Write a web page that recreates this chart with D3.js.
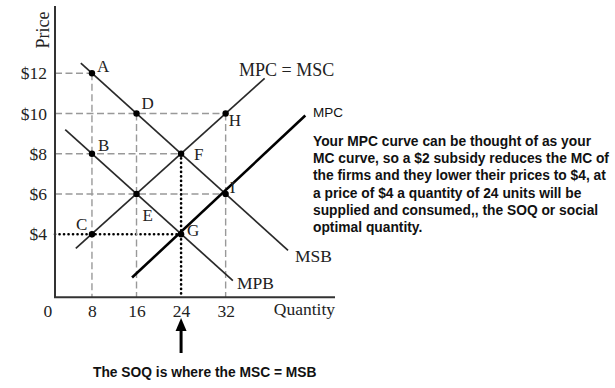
<!DOCTYPE html>
<html><head><meta charset="utf-8">
<script src="https://cdn.jsdelivr.net/npm/d3@7"></script>
<style>
html,body{margin:0;padding:0;background:#fff;}
svg{display:block;}
</style>
</head><body>
<svg id="chart" width="615" height="388"></svg>
<script>
// ---- data ----
const qTicks = [0, 8, 16, 24, 32];
const pTicks = [4, 6, 8, 10, 12];
const pTickLabels = ["$4", "$6", "$8", "$10", "$12"];

const pointNames = ["A", "D", "H", "B", "F", "E", "I", "C", "G"];
const pointQ     = [8, 16, 32, 8, 24, 16, 32, 8, 24];
const pointP     = [12, 10, 10, 8, 8, 6, 6, 4, 4];

const curveNames = ["MPC = MSC", "MSB", "MPB", "MPC"];
const curveQ0 = [5.1, 6.0, 3.2, 15.2];
const curveP0 = [3.3, 12.5, 9.2, 1.85];
const curveQ1 = [39.0, 43.2, 33.3, 46.3];
const curveP1 = [11.75, 3.2, 1.7, 9.9];

// guide lines: horizontal (price level, to quantity), vertical (quantity, from price)
const hGuideP = [12, 10, 8, 6, 4];
const hGuideQ = [8, 32, 24, 32, 24];
const hGuideDotted = [false, false, false, false, true];
const vGuideQ = [8, 16, 32, 24];
const vGuideP = [12, 10, 10, 8];
const vGuideDotted = [false, false, false, true];

const noteLines = [
  "Your MPC curve can be thought of as your",
  "MC curve, so a $2 subsidy reduces the MC of",
  "the firms and they lower their prices to $4, at",
  "a price of $4 a quantity of 24 units will be",
  "supplied and consumed,, the SOQ or social",
  "optimal quantity."
];
const bottomNote = "The SOQ is where the MSC = MSB";

// ---- layout ----
const svg = d3.select("#chart");
const x = d3.scaleLinear().domain([0, 40]).range([47.4, 270.2]);
const y = d3.scaleLinear().domain([0, 12]).range([314.8, 73.3]);
const axisX = 55, axisY = 297.3, axisTop = 6, axisRight = 335;
const serif = "'Liberation Serif','Times New Roman',serif";
const sans = "'Liberation Sans',Arial,Helvetica,sans-serif";
const ink = "#222";

// guides
const gGuides = svg.append("g");
hGuideP.forEach((p, i) => {
  gGuides.append("line")
    .attr("x1", axisX).attr("x2", x(hGuideQ[i]))
    .attr("y1", y(p)).attr("y2", y(p))
    .attr("stroke", hGuideDotted[i] ? "#000" : "#999")
    .attr("stroke-width", hGuideDotted[i] ? 2.6 : 1.4)
    .attr("stroke-linecap", hGuideDotted[i] ? "round" : "butt")
    .attr("stroke-dasharray", hGuideDotted[i] ? "0.1 4.4" : "7 3.5");
});
vGuideQ.forEach((q, i) => {
  gGuides.append("line")
    .attr("x1", x(q)).attr("x2", x(q))
    .attr("y1", y(vGuideP[i])).attr("y2", axisY)
    .attr("stroke", vGuideDotted[i] ? "#000" : "#999")
    .attr("stroke-width", vGuideDotted[i] ? 2.6 : 1.4)
    .attr("stroke-linecap", vGuideDotted[i] ? "round" : "butt")
    .attr("stroke-dasharray", vGuideDotted[i] ? "0.1 4.4" : "7 3.5");
});

// curves
const line = d3.line().x(d => x(d[0])).y(d => y(d[1]));
curveNames.forEach((n, i) => {
  svg.append("path")
    .datum([[curveQ0[i], curveP0[i]], [curveQ1[i], curveP1[i]]])
    .attr("d", line)
    .attr("fill", "none")
    .attr("stroke", n === "MPC" ? "#000" : "#2a2a2a")
    .attr("stroke-width", n === "MPC" ? 2.6 : 1.7);
});

// axes
svg.append("line").attr("x1", axisX).attr("x2", axisX).attr("y1", axisTop).attr("y2", axisY)
  .attr("stroke", "#333").attr("stroke-width", 2);
svg.append("line").attr("x1", axisX - 1).attr("x2", axisRight).attr("y1", axisY).attr("y2", axisY)
  .attr("stroke", "#333").attr("stroke-width", 2);

const xAxis = svg.append("g").attr("transform", `translate(0,${axisY})`)
  .call(d3.axisBottom(x).tickValues(qTicks).tickSize(0).tickPadding(7).tickFormat(d3.format("d")));
xAxis.select(".domain").remove();
xAxis.selectAll("text").attr("font-family", serif).attr("font-size", 17.5).attr("fill", ink)
  .attr("dy", "0.71em");

const yAxis = svg.append("g").attr("transform", `translate(${axisX},0)`)
  .call(d3.axisLeft(y).tickValues(pTicks).tickSize(0).tickPadding(8)
    .tickFormat((d, i) => pTickLabels[i]));
yAxis.select(".domain").remove();
yAxis.selectAll("text").attr("font-family", serif).attr("font-size", 17.5).attr("fill", ink);

svg.append("text").attr("x", axisRight).attr("y", 315)
  .attr("text-anchor", "end").attr("font-family", serif).attr("font-size", 17.5).attr("fill", ink)
  .text("Quantity");
svg.append("text").attr("transform", "translate(49,30) rotate(-90)")
  .attr("text-anchor", "middle").attr("font-family", serif).attr("font-size", 18).attr("fill", ink)
  .text("Price");

// points
const labelOffset = {A:[5,-1], D:[5,-5], H:[3,12], B:[6,-3], F:[13,6], E:[6,27], I:[4,-1], C:[-16,-4], G:[6,2]};
pointNames.forEach((n, i) => {
  svg.append("circle").attr("cx", x(pointQ[i])).attr("cy", y(pointP[i])).attr("r", 3.2).attr("fill", "#000");
  svg.append("text").attr("x", x(pointQ[i]) + labelOffset[n][0]).attr("y", y(pointP[i]) + labelOffset[n][1])
    .attr("font-family", serif).attr("font-size", 17).attr("fill", ink).text(n);
});

// curve labels
const curveLabelPos = {"MPC = MSC":[239,76,serif,18,"normal"], "MSB":[295,262,serif,17.5,"normal"], "MPB":[237,289,serif,17.5,"normal"], "MPC":[313,117,sans,13.5,"normal"]};
curveNames.forEach(n => {
  const c = curveLabelPos[n];
  svg.append("text").attr("x", c[0]).attr("y", c[1]).attr("font-family", c[2]).attr("font-size", c[3])
    .attr("fill", n === "MPC" ? "#111" : ink).text(n);
});

// note
const note = svg.append("text").attr("font-family", sans).attr("font-size", 13.8)
  .attr("font-weight", "bold").attr("fill", "#111");
noteLines.forEach((t, i) => {
  note.append("tspan").attr("x", 313).attr("y", 146 + i * 17.2).text(t);
});

// arrow to 24
const ax = x(24);
svg.append("line").attr("x1", ax).attr("x2", ax).attr("y1", 328).attr("y2", 353)
  .attr("stroke", "#000").attr("stroke-width", 3);
svg.append("path").attr("d", `M${ax},318 L${ax - 5.5},331 L${ax + 5.5},331 Z`).attr("fill", "#000");

svg.append("text").attr("x", 93).attr("y", 377).attr("font-family", sans).attr("font-size", 13.8)
  .attr("font-weight", "bold").attr("fill", "#111").text(bottomNote);
</script>
</body></html>
